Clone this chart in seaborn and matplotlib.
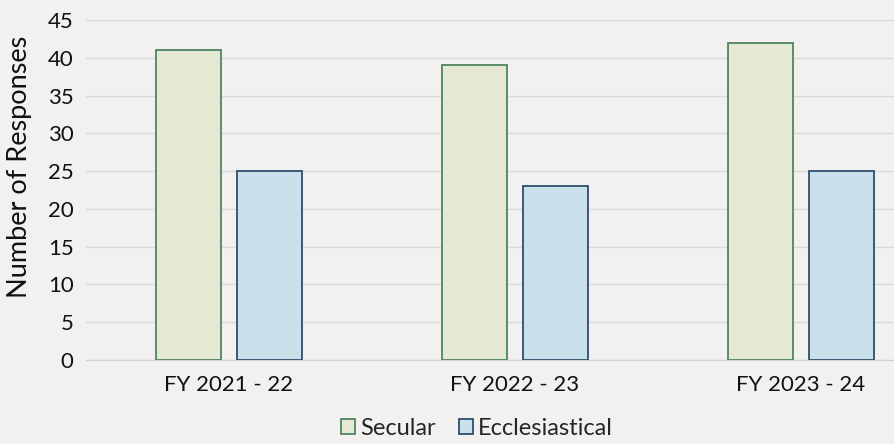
import matplotlib
matplotlib.use("Agg")
import matplotlib.pyplot as plt
import seaborn as sns
import pandas as pd
from matplotlib.patches import Patch

# chart data
years = ["FY 2021 - 22", "FY 2022 - 23", "FY 2023 - 24"]
secular = [41, 39, 42]
ecclesiastical = [25, 23, 25]
series_names = ["Secular", "Ecclesiastical"]

df = pd.DataFrame({
    "year": years * 2,
    "responses": secular + ecclesiastical,
    "type": [series_names[0]] * 3 + [series_names[1]] * 3,
})

bg = "#f2f1ef"
fills = {"Secular": "#e5e9d4", "Ecclesiastical": "#cae0eb"}
edges = {"Secular": "#4f8560", "Ecclesiastical": "#2d4f6c"}

sns.set_style("white")
plt.rcParams["font.family"] = ["Lato", "DejaVu Sans"]

fig = plt.figure(figsize=(8.95, 4.44), dpi=100, facecolor=bg)
ax = fig.add_axes([86 / 895, 84 / 444, (944 - 86) / 895, 340 / 444])
ax.set_facecolor(bg)

sns.barplot(data=df, x="year", y="responses", hue="type", palette=fills,
            saturation=1, width=0.57, gap=0.2, ax=ax, legend=False, zorder=3)

for container, name in zip(ax.containers, series_names):
    for bar in container:
        bar.set_edgecolor(edges[name])
        bar.set_linewidth(1.3)

ax.set_ylim(0, 45)
ax.set_yticks(range(0, 46, 5))
ax.set_xlim(-0.5, 2.5)
ax.yaxis.grid(True, color="#d9d9d9", linewidth=1, zorder=0)
for s in ["top", "right", "left"]:
    ax.spines[s].set_visible(False)
ax.spines["bottom"].set_color("#d0d0d0")
ax.tick_params(axis="both", length=0, labelsize=16, colors="#111111", pad=9)
ax.tick_params(axis="x", pad=11)
ax.set_xlabel("")
ax.set_ylabel("Number of Responses", fontsize=19.5, color="#111111")
ax.yaxis.set_label_coords(-54 / 858, (360 - 167) / 340)

handles = [Patch(facecolor=fills[n], edgecolor=edges[n], linewidth=1.3) for n in series_names]
fig.legend(handles, series_names, loc="center", bbox_to_anchor=(477 / 895, 1 - 428 / 444),
           ncol=2, frameon=False, fontsize=17, handlelength=0.6, handleheight=0.6,
           handletextpad=0.2, columnspacing=1.0)

fig.savefig("out.png", dpi=100, facecolor=bg)
